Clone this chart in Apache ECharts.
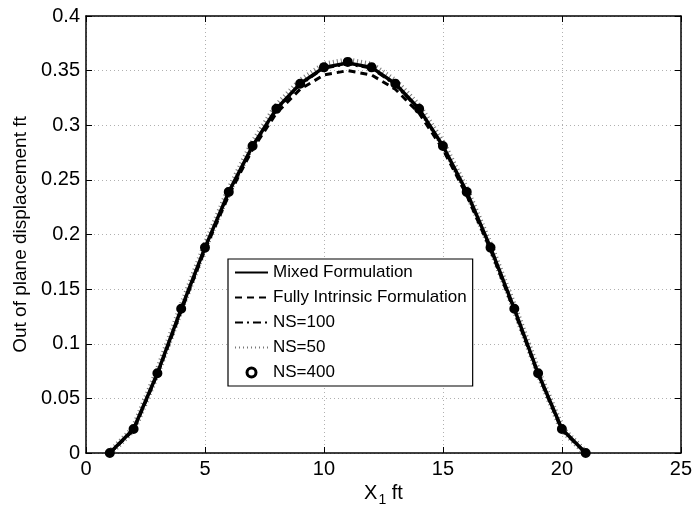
<!DOCTYPE html>
<html>
<head>
<meta charset="utf-8">
<script src="https://cdn.jsdelivr.net/npm/echarts@6/dist/echarts.min.js"></script>
<style>html,body{margin:0;padding:0;background:#fff}#c{width:695px;height:512px}</style>
</head>
<body>
<div id="c"></div>
<script>
var xValues = [1, 2, 3, 4, 5, 6, 7, 8, 9, 10, 11, 12, 13, 14, 15, 16, 17, 18, 19, 20, 21];
var mixedFormulation = [0, 0.022, 0.073, 0.132, 0.188, 0.239, 0.281, 0.315, 0.338, 0.353, 0.357, 0.353, 0.338, 0.315, 0.281, 0.239, 0.188, 0.132, 0.073, 0.022, 0];
var fullyIntrinsic = [0, 0.021, 0.072, 0.130, 0.186, 0.236, 0.278, 0.311, 0.333, 0.346, 0.350, 0.346, 0.333, 0.311, 0.278, 0.236, 0.186, 0.130, 0.072, 0.021, 0];
var ns100 = [0, 0.022, 0.073, 0.132, 0.188, 0.238, 0.281, 0.314, 0.337, 0.352, 0.356, 0.352, 0.337, 0.314, 0.281, 0.238, 0.188, 0.132, 0.073, 0.022, 0];
var ns50 = [0, 0.022, 0.074, 0.133, 0.189, 0.240, 0.283, 0.317, 0.340, 0.355, 0.359, 0.355, 0.340, 0.317, 0.283, 0.240, 0.189, 0.133, 0.074, 0.022, 0];
var ns400 = [0, 0.022, 0.073, 0.132, 0.188, 0.239, 0.281, 0.315, 0.338, 0.353, 0.358, 0.353, 0.338, 0.315, 0.281, 0.239, 0.188, 0.132, 0.073, 0.022, 0];
var seriesNames = ['Mixed Formulation', 'Fully Intrinsic Formulation', 'NS=100', 'NS=50', 'NS=400'];
var xTicks = [0, 5, 10, 15, 20, 25];
var yTicks = [0, 0.05, 0.1, 0.15, 0.2, 0.25, 0.3, 0.35, 0.4];

function pairs(ys) { return xValues.map(function (x, i) { return [x, ys[i]]; }); }

var FONT = 'Liberation Sans, Arial, Helvetica, sans-serif';
var chart = echarts.init(document.getElementById('c'));
var axisLine = { show: true, onZero: false, lineStyle: { color: '#000', width: 1.5 } };
var tick = { show: true, inside: true, length: 6, lineStyle: { color: '#000', width: 1 } };
var grid = { show: true, lineStyle: { color: '#b0b0b0', type: [1, 3], width: 1 } };
var noSym = { color: 'rgba(0,0,0,0)', borderWidth: 0, opacity: 0 };

chart.setOption({
  animation: false,
  backgroundColor: '#fff',
  grid: { left: 86, right: 14, top: 16, bottom: 59, containLabel: false },
  legend: {
    orient: 'vertical', left: 228, top: 259,
    padding: [1, 6, 1, 6],
    itemWidth: 33, itemHeight: 9, itemGap: 0,
    backgroundColor: '#fff', borderColor: '#000', borderWidth: 1.2,
    selectedMode: false,
    textStyle: { fontFamily: FONT, fontSize: 17, color: '#000', lineHeight: 25 },
    data: [
      { name: seriesNames[0], itemStyle: noSym },
      { name: seriesNames[1], itemStyle: noSym },
      { name: seriesNames[2], itemStyle: noSym },
      { name: seriesNames[3], itemStyle: noSym },
      { name: seriesNames[4], itemStyle: { color: '#fff', borderColor: '#000', borderWidth: 3 } }
    ]
  },
  xAxis: [{
    type: 'value', min: xTicks[0], max: xTicks[xTicks.length - 1], interval: 5,
    axisLine: axisLine, axisTick: tick, splitLine: grid,
    axisLabel: { color: '#000', fontFamily: FONT, fontSize: 20, margin: 6 },
    name: '{a|X}{s|1}{a| ft}', nameLocation: 'middle', nameGap: 23,
    nameTextStyle: { verticalAlign: 'top', rich: {
      a: { fontFamily: FONT, fontSize: 20, color: '#000' },
      s: { fontFamily: FONT, fontSize: 14, color: '#000', verticalAlign: 'bottom', padding: [12, 0, 0, 1] }
    } }
  }, {
    type: 'value', min: 0, max: 25, interval: 5, position: 'top',
    axisLine: axisLine, axisTick: tick, axisLabel: { show: false }, splitLine: { show: false }
  }],
  yAxis: [{
    type: 'value', min: yTicks[0], max: yTicks[yTicks.length - 1], interval: 0.05,
    axisLine: axisLine, axisTick: tick, splitLine: grid,
    axisLabel: { color: '#000', fontFamily: FONT, fontSize: 20, margin: 6,
      formatter: function (v) { return String(+v.toFixed(2)); } },
    name: 'Out of plane displacement ft', nameLocation: 'middle', nameGap: 54,
    nameTextStyle: { fontFamily: FONT, fontSize: 19, color: '#000' }
  }, {
    type: 'value', min: 0, max: 0.4, interval: 0.05, position: 'right',
    axisLine: axisLine, axisTick: tick, axisLabel: { show: false }, splitLine: { show: false }
  }],
  series: [
    { name: seriesNames[0], type: 'line', data: pairs(mixedFormulation), symbol: 'none',
      lineStyle: { color: '#000', width: 3.5 }, itemStyle: { color: '#000' }, z: 5 },
    { name: seriesNames[1], type: 'line', data: pairs(fullyIntrinsic), symbol: 'none',
      lineStyle: { color: '#000', width: 3, type: [7, 5] }, itemStyle: { color: '#000' }, z: 4 },
    { name: seriesNames[2], type: 'line', data: pairs(ns100), symbol: 'none',
      lineStyle: { color: '#000', width: 2.5, type: [8, 4, 2, 4] }, itemStyle: { color: '#000' }, z: 4 },
    { name: seriesNames[3], type: 'line', data: pairs(ns50), symbol: 'none',
      lineStyle: { color: '#777', width: 7, type: [1, 3] }, itemStyle: { color: '#777' }, z: 3 },
    { name: seriesNames[4], type: 'scatter', data: pairs(ns400), symbol: 'circle', symbolSize: 8,
      itemStyle: { color: '#000', borderColor: '#000', borderWidth: 2, opacity: 1 }, z: 6 }
  ]
});
</script>
</body>
</html>
